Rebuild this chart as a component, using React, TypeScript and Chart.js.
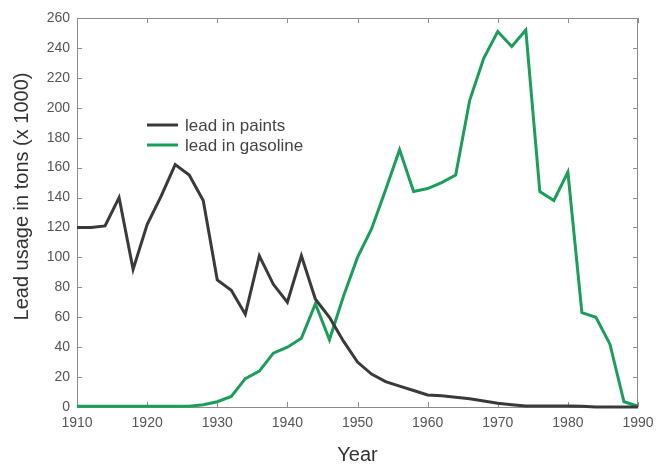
import React, { useEffect, useRef } from "react";
import { Chart, registerables } from "chart.js";

Chart.register(...registerables);

const years = [
  1910, 1912, 1914, 1916, 1918, 1920, 1922, 1924, 1926, 1928,
  1930, 1932, 1934, 1936, 1938, 1940, 1942, 1944, 1946, 1948,
  1950, 1952, 1954, 1956, 1958, 1960, 1962, 1964, 1966, 1968,
  1970, 1972, 1974, 1976, 1978, 1980, 1982, 1984, 1986, 1988, 1990,
];

const paints = [
  120, 120, 121, 140, 92, 122, 141, 162, 155, 138,
  85, 78, 62, 101, 82, 70, 101, 72, 60, 44,
  30, 22, 17, 14, 11, 8, 7.5, 6.5, 5.5, 4,
  2.5, 1.5, 0.7, 0.6, 0.6, 0.6, 0.5, 0, 0, 0, 0,
];

const gasoline = [
  0.5, 0.5, 0.5, 0.5, 0.5, 0.5, 0.5, 0.5, 0.5, 1.5,
  3.5, 7, 19, 24, 36, 40, 46, 69, 45, 74,
  100, 119, 145, 172, 144, 146, 150, 155, 205, 233,
  251, 241, 252, 144, 138, 157, 63, 60, 42, 3.5, 0.5,
];

const seriesLabels = ["lead in paints", "lead in gasoline"];
const seriesColors = ["#3a3a3a", "#1c9e5b"];
const xTitle = "Year";
const yTitle = "Lead usage in tons (x 1000)";

const FONT = "'Liberation Sans', Arial, Helvetica, sans-serif";
const FRAME = "#8c8c8c";

// Box frame with inward tick marks on all four sides, plus legend and titles.
const decorations = {
  id: "decorations",
  beforeDatasetsDraw(chart: any) {
    const { ctx, chartArea: a, scales } = chart;
    ctx.save();
    ctx.strokeStyle = FRAME;
    ctx.lineWidth = 1;
    ctx.strokeRect(a.left + 0.5, a.top + 0.5, a.right - a.left - 1, a.bottom - a.top);
    const len = 5;
    ctx.beginPath();
    for (const t of scales.x.ticks) {
      const px = Math.round(scales.x.getPixelForValue(t.value)) + 0.5;
      ctx.moveTo(px, a.bottom);
      ctx.lineTo(px, a.bottom - len);
      ctx.moveTo(px, a.top);
      ctx.lineTo(px, a.top + len);
    }
    for (const t of scales.y.ticks) {
      const py = Math.round(scales.y.getPixelForValue(t.value)) + 0.5;
      ctx.moveTo(a.left, py);
      ctx.lineTo(a.left + len, py);
      ctx.moveTo(a.right, py);
      ctx.lineTo(a.right - len, py);
    }
    ctx.stroke();
    ctx.restore();
  },
  afterDraw(chart: any) {
    const { ctx, chartArea: a } = chart;
    ctx.save();
    // legend
    ctx.font = `17px ${FONT}`;
    ctx.textBaseline = "middle";
    ctx.textAlign = "left";
    chart.data.datasets.forEach((ds: any, i: number) => {
      const y = 125 + i * 20;
      ctx.strokeStyle = ds.borderColor;
      ctx.lineWidth = 3;
      ctx.beginPath();
      ctx.moveTo(147, y);
      ctx.lineTo(178, y);
      ctx.stroke();
      ctx.fillStyle = "#444";
      ctx.fillText(ds.label, 185, y + 1);
    });
    // axis titles
    ctx.fillStyle = "#333";
    ctx.textAlign = "center";
    ctx.textBaseline = "alphabetic";
    ctx.font = `20px ${FONT}`;
    ctx.fillText(xTitle, (a.left + a.right) / 2, 461);
    ctx.textBaseline = "middle";
    ctx.translate(22, (a.top + a.bottom) / 2 - 16);
    ctx.rotate(-Math.PI / 2);
    ctx.fillText(yTitle, 0, 0);
    ctx.restore();
  },
};

export default function App() {
  const ref = useRef<HTMLCanvasElement | null>(null);

  useEffect(() => {
    if (!ref.current) return;
    const chart = new Chart(ref.current, {
      type: "line",
      data: {
        datasets: [
          {
            label: seriesLabels[0],
            data: years.map((x, i) => ({ x, y: paints[i] })),
            borderColor: seriesColors[0],
            backgroundColor: seriesColors[0],
            borderWidth: 3,
            pointRadius: 0,
            tension: 0,
            clip: false,
          },
          {
            label: seriesLabels[1],
            data: years.map((x, i) => ({ x, y: gasoline[i] })),
            borderColor: seriesColors[1],
            backgroundColor: seriesColors[1],
            borderWidth: 3,
            pointRadius: 0,
            tension: 0,
            clip: false,
          },
        ],
      },
      options: {
        responsive: false,
        animation: false,
        layout: { padding: { top: 18, right: 18, left: 0, bottom: 0 } },
        plugins: {
          legend: { display: false },
          tooltip: { enabled: false },
        },
        scales: {
          x: {
            type: "linear",
            min: 1910,
            max: 1990,
            afterFit: (s: any) => {
              s.height = 59;
              s.paddingLeft = 0;
              s.paddingRight = 0;
            },
            ticks: {
              stepSize: 10,
              callback: (v: any) => String(v),
              font: { family: FONT, size: 14 },
              color: "#555",
              padding: 8,
              maxRotation: 0,
            },
            grid: { display: false, drawTicks: false },
            border: { display: false },
          },
          y: {
            min: 0,
            max: 260,
            afterFit: (s: any) => {
              s.width = 77;
              s.paddingTop = 0;
              s.paddingBottom = 0;
            },
            ticks: {
              stepSize: 20,
              font: { family: FONT, size: 14 },
              color: "#555",
              padding: 7,
            },
            grid: { display: false, drawTicks: false },
            border: { display: false },
          },
        },
      },
      plugins: [decorations],
    });
    return () => chart.destroy();
  }, []);

  return (
    <div style={{ position: "fixed", left: 0, top: 0, width: 656, height: 466, background: "#fff" }}>
      <canvas ref={ref} width={656} height={466} />
    </div>
  );
}
